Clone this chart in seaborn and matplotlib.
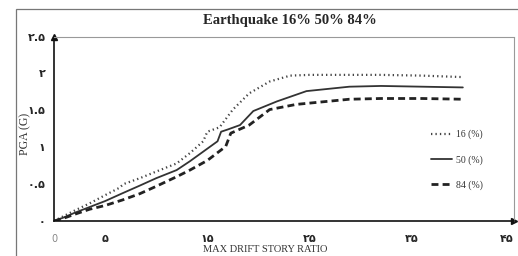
import matplotlib
matplotlib.use("Agg")
import matplotlib.pyplot as plt
import seaborn as sns
from matplotlib.patches import Rectangle

sns.set_style("white")
plt.rcParams["font.family"] = ["DejaVu Sans"]

# 16% curve
x16 = [0, 1, 2.0, 3.5, 5.0, 6.4, 6.8, 8.4, 10, 12.0, 13.3, 14.6, 15.0, 16.2, 17.5, 19.1, 21.1, 23.1, 25, 28.9, 32, 36, 40]
y16 = [0, 0.07, 0.14, 0.24, 0.35, 0.45, 0.50, 0.58, 0.67, 0.78, 0.92, 1.08, 1.21, 1.27, 1.51, 1.73, 1.89, 1.97, 1.98, 1.98, 1.98, 1.97, 1.95]
# 50% curve
x50 = [0, 1, 2.0, 3.5, 5.0, 6.7, 8.4, 10, 12.0, 13.3, 15.1, 16.0, 16.35, 17.0, 18.2, 19.5, 21.8, 24.7, 28.9, 32, 36, 40]
y50 = [0, 0.05, 0.11, 0.19, 0.27, 0.376, 0.48, 0.58, 0.69, 0.81, 0.99, 1.08, 1.21, 1.24, 1.30, 1.49, 1.62, 1.76, 1.82, 1.83, 1.82, 1.81]
# 84% curve
x84 = [0, 1, 2.0, 3.5, 5.0, 6.7, 8.4, 10, 12.0, 13.3, 15.0, 16.8, 17.3, 19.1, 21.1, 23.7, 28.9, 32, 36, 40]
y84 = [0, 0.04, 0.09, 0.16, 0.21, 0.285, 0.37, 0.47, 0.60, 0.69, 0.82, 1.01, 1.19, 1.30, 1.51, 1.58, 1.65, 1.66, 1.66, 1.65]

labels = ["16 (%)", "50 (%)", "84 (%)"]
xtick_vals = [0, 5, 10, 15, 20, 25, 30, 35, 40, 45]
xtick_text = ["0", "۵", "", "۱۵", "", "۲۵", "", "۳۵", "", "۴۵"]
ytick_vals = [0, 0.5, 1, 1.5, 2, 2.5]
ytick_text = ["۰", "۰.۵", "۱", "۱.۵", "۲", "۲.۵"]

fig = plt.figure(figsize=(5.18, 2.56), dpi=100)
fig.patches.append(Rectangle((0.03, -0.01), 0.98, 0.975, transform=fig.transFigure,
                             fill=False, edgecolor="#777777", linewidth=0.9))
ax = fig.add_axes([0.1042, 0.1367, 0.888, 0.7207])

sns.lineplot(x=x16, y=y16, ax=ax, color="#444444", linewidth=1.6,
             linestyle=(0, (0.6, 1.4)), label=labels[0])
sns.lineplot(x=x50, y=y50, ax=ax, color="#333333", linewidth=1.3,
             linestyle="-", label=labels[1])
sns.lineplot(x=x84, y=y84, ax=ax, color="#222222", linewidth=2.0,
             linestyle=(0, (2.5, 1.5)), label=labels[2])

ax.set_xlim(0, 45)
ax.set_ylim(0, 2.5)
ax.set_xticks(xtick_vals)
ax.set_xticklabels(xtick_text, fontsize=8, fontweight="bold")
ax.set_yticks(ytick_vals)
ax.set_yticklabels(ytick_text, fontsize=8, fontweight="bold")
xl = ax.get_xticklabels()
xl[0].set_color("#888888")
xl[0].set_fontweight("normal")
xl[0].set_fontsize(7)
# last label sits against the right edge
xl[-1].set_horizontalalignment("right")
ax.tick_params(direction="in", length=3, width=0.8, color="#222222", pad=9)
ax.tick_params(axis="y", pad=6)

for side in ["top", "right"]:
    ax.spines[side].set_linestyle((0, (1, 1)))
    ax.spines[side].set_color("#999999")
    ax.spines[side].set_linewidth(0.8)
for side in ["left", "bottom"]:
    ax.spines[side].set_color("#111111")
    ax.spines[side].set_linewidth(1.2)
ax.plot(1, 0, ">", color="#111111", markersize=5, transform=ax.transAxes, clip_on=False)
ax.plot(0, 1, "^", color="#111111", markersize=5, transform=ax.transAxes, clip_on=False)

ax.set_xlabel("MAX DRIFT STORY RATIO", family="Liberation Serif", fontsize=7.5, color="#333333")
ax.xaxis.set_label_coords(0.46, -0.13)
ax.set_ylabel("PGA (G)", family="Liberation Serif", fontsize=8.5, color="#333333")
ax.yaxis.set_label_coords(-0.05, 0.47)

fig.text(0.56, 0.92, "Earthquake 16% 50% 84%", family="Liberation Serif",
         fontsize=10.5, fontweight="bold", ha="center", va="center")

leg = ax.legend(loc="upper left", bbox_to_anchor=(0.80, 0.542), frameon=False,
                prop={"family": "Liberation Serif", "size": 7},
                handlelength=2.2, labelspacing=1.6, handletextpad=0.4)
for t in leg.get_texts():
    t.set_color("#333333")

fig.savefig("out.png", dpi=100)
